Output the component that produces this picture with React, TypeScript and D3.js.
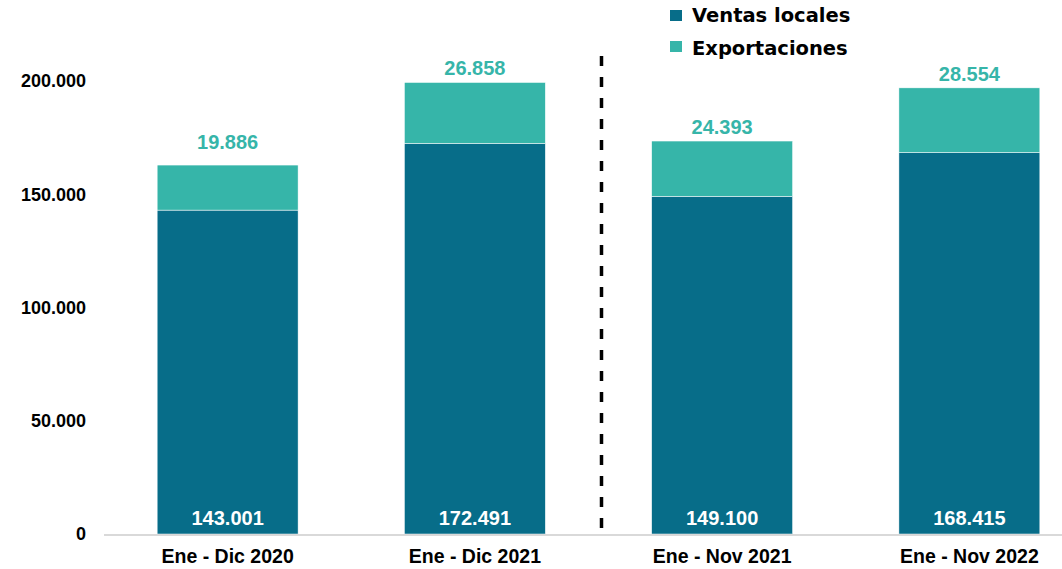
import React from "react";
import * as d3 from "d3";

const categories = ["Ene - Dic 2020", "Ene - Dic 2021", "Ene - Nov 2021", "Ene - Nov 2022"];
const ventasLocales = [143001, 172491, 149100, 168415];
const exportaciones = [19886, 26858, 24393, 28554];
const yTicks = [0, 50000, 100000, 150000, 200000];
const seriesNames = ["Ventas locales", "Exportaciones"];

const W = 1062;
const H = 569;
const DARK = "#076d89";
const LIGHT = "#36b5a9";
// gap between the top of each stack and its export label (the first one sits higher)
const topLabelGap = [16, 7, 7, 7];

const fmt = (v: number) => d3.format(",")(v).replace(/,/g, ".");

const App: React.FC = () => {
  const x = d3
    .scaleBand<string>()
    .domain(categories)
    .range([104, 1093])
    .paddingInner(0.43)
    .paddingOuter(0.215);

  const y = d3.scaleLinear().domain([0, 200000]).range([534, 81]);

  const bw = x.bandwidth();
  // divider between the yearly and the Jan-Nov groups
  const divX = ((x(categories[1]) ?? 0) + bw + (x(categories[2]) ?? 0)) / 2 + 3;

  return (
    <svg
      width={W}
      height={H}
      style={{ position: "absolute", left: 0, top: 0 }}
      fontFamily="'Liberation Sans', Arial, sans-serif"
    >
      {/* y labels */}
      {yTicks.map((t) => (
        <text
          key={t}
          x={86}
          y={y(t)}
          dy="0.36em"
          textAnchor="end"
          fontSize={18}
          fontWeight="bold"
          fill="#000"
        >
          {fmt(t)}
        </text>
      ))}

      {/* bars */}
      {categories.map((c, i) => {
        const x0 = x(c) ?? 0;
        const v = ventasLocales[i];
        const e = exportaciones[i];
        return (
          <g key={c}>
            <rect
              x={x0}
              y={y(v)}
              width={bw}
              height={y(0) - y(v)}
              fill={DARK}
              stroke="#ffffff"
              strokeWidth={0.5}
            />
            <rect
              x={x0}
              y={y(v + e)}
              width={bw}
              height={y(v) - y(v + e)}
              fill={LIGHT}
              stroke="#ffffff"
              strokeWidth={0.5}
            />
            <text
              x={x0 + bw / 2}
              y={y(0) - 9}
              textAnchor="middle"
              fontSize={20}
              fontWeight="bold"
              fill="#ffffff"
            >
              {fmt(v)}
            </text>
            <text
              x={x0 + bw / 2}
              y={y(v + e) - topLabelGap[i]}
              textAnchor="middle"
              fontSize={20}
              fontWeight="bold"
              fill={LIGHT}
            >
              {fmt(e)}
            </text>
            <text
              x={x0 + bw / 2}
              y={563}
              textAnchor="middle"
              fontSize={19.5}
              fontWeight="bold"
              fill="#000"
            >
              {c}
            </text>
          </g>
        );
      })}

      {/* x axis line */}
      <line x1={104} x2={W} y1={y(0) + 1} y2={y(0) + 1} stroke="#d9d9d9" strokeWidth={2} />

      {/* dashed divider */}
      <line
        x1={divX}
        x2={divX}
        y1={56}
        y2={y(0)}
        stroke="#000"
        strokeWidth={3.5}
        strokeDasharray="10 11"
      />

      {/* legend */}
      {seriesNames.map((s, i) => (
        <g key={s}>
          <rect x={670} y={10 + i * 31} width={12} height={11} fill={i === 0 ? DARK : LIGHT} />
          <text
            x={692}
            y={21.5 + i * 33.5}
            fontFamily="'DejaVu Sans', sans-serif"
            fontSize={19.5}
            fontWeight="bold"
            fill="#000"
          >
            {s}
          </text>
        </g>
      ))}
    </svg>
  );
};

export default App;
